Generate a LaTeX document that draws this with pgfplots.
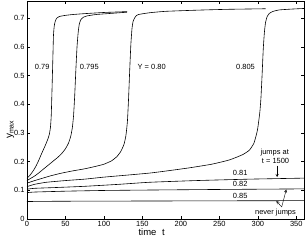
\documentclass[border=0pt]{standalone}
\usepackage{fontspec}
\setmainfont{Liberation Sans}
\usepackage{pgfplots}
\pgfplotsset{compat=1.18}
\begin{document}
\begin{tikzpicture}
\begin{axis}[
  scale only axis, width=277bp, height=218bp,
  xmin=0, xmax=360, ymin=0, ymax=0.76,
  xtick={0,50,...,350}, ytick={0,0.1,...,0.7},
  yticklabels={0,0.1,0.2,0.3,0.4,0.5,0.6,0.7},
  tick align=inside, major tick length=3bp,
  tick style={black, line width=0.4pt},
  axis line style={line width=0.5pt},
  ticklabel style={font=\fontsize{7.5}{8}\selectfont},
  /pgf/number format/assume math mode=true,
  xticklabel style={yshift=1bp},
  yticklabel style={xshift=1bp},
  xlabel={time\hspace{0.6em}t}, xlabel style={font=\fontsize{9.5}{10}\selectfont, yshift=5bp, at={(ticklabel cs:0.45)}},
  ylabel={y\textsubscript{max}}, ylabel style={font=\fontsize{10}{11}\selectfont, yshift=-7bp, at={(ticklabel cs:0.41)}},
  crv/.style={black, solid, line width=0.6pt, mark=none, smooth, tension=0.3},
  clip=true,
]
% Y = 0.79
\addplot[crv] coordinates {(0,0.142)(3,0.150)(6,0.160)(9,0.172)(12,0.186)(15,0.203)(18,0.222)(21,0.240)(24,0.258)(27,0.278)(29,0.295)(30.5,0.32)(31.5,0.36)(32.5,0.45)(33.5,0.55)(34.4,0.64)(35.5,0.675)(37,0.692)(39,0.701)(42,0.706)(50,0.710)(60,0.713)(75,0.716)(100,0.72)(130,0.723)};
% Y = 0.795
\addplot[crv] coordinates {(0,0.134)(5,0.142)(10,0.150)(15,0.160)(20,0.171)(25,0.182)(30,0.193)(35,0.204)(40,0.215)(45,0.228)(50,0.245)(54,0.265)(57,0.29)(59,0.32)(60.5,0.36)(62,0.43)(63.5,0.52)(65,0.60)(66.5,0.65)(68,0.68)(70,0.695)(73,0.703)(78,0.708)(90,0.713)(110,0.717)(130,0.721)};
% Y = 0.80
\addplot[crv] coordinates {(0,0.125)(10,0.134)(20,0.142)(30,0.150)(45,0.160)(60,0.168)(75,0.175)(90,0.184)(100,0.191)(110,0.203)(117,0.218)(122,0.236)(126,0.26)(128.5,0.29)(130.5,0.34)(132,0.42)(133.5,0.52)(135,0.61)(136.5,0.665)(138,0.69)(141,0.706)(145,0.713)(159,0.719)(180,0.724)(220,0.728)(260,0.731)(310,0.733)};
% Y = 0.805
\addplot[crv] coordinates {(0,0.113)(10,0.121)(25,0.128)(50,0.134)(75,0.139)(100,0.146)(130,0.153)(159,0.160)(180,0.167)(210,0.178)(240,0.191)(263,0.206)(280,0.224)(289,0.24)(295,0.265)(299.5,0.31)(302.5,0.37)(304,0.42)(305.5,0.5)(307,0.59)(308.5,0.65)(310,0.685)(312,0.705)(315,0.717)(320,0.724)(328,0.729)(345,0.732)(360,0.734)};
% Y = 0.81
\addplot[crv] coordinates {(0,0.104)(10,0.107)(40,0.110)(75,0.114)(120,0.121)(159,0.128)(220,0.134)(290,0.139)(360,0.1425)};
% Y = 0.82
\addplot[crv] coordinates {(0,0.092)(10,0.094)(50,0.097)(100,0.0995)(159,0.101)(250,0.103)(360,0.105)};
% Y = 0.85
\addplot[crv] coordinates {(0,0.061)(50,0.062)(200,0.063)(360,0.064)};

\begin{scope}[every node/.style={font=\fontsize{7.5}{8}\selectfont, inner sep=0pt}]
\node at (axis cs:19.8,0.53) {0.79};
\node at (axis cs:81,0.53) {0.795};
\node at (axis cs:162,0.53) {Y = 0.80};
\node at (axis cs:284,0.53) {0.805};
\node at (axis cs:277,0.162) {0.81};
\node at (axis cs:277,0.122) {0.82};
\node at (axis cs:277,0.082) {0.85};
\node at (axis cs:322,0.232) {jumps at};
\node at (axis cs:323,0.202) {t = 1500};
\node at (axis cs:323,0.022) {never jumps};
\end{scope}
\draw[-stealth, line width=0.4pt] (axis cs:325,0.186) -- (axis cs:325,0.146);
\draw[-stealth, line width=0.4pt] (axis cs:331,0.042) -- (axis cs:337,0.103);
\draw[-stealth, line width=0.4pt] (axis cs:331,0.042) -- (axis cs:324,0.063);
\end{axis}
\pgfresetboundingbox
\path[use as bounding box] (-27bp,-22bp) rectangle (280bp,219bp);
\end{tikzpicture}
\end{document}
